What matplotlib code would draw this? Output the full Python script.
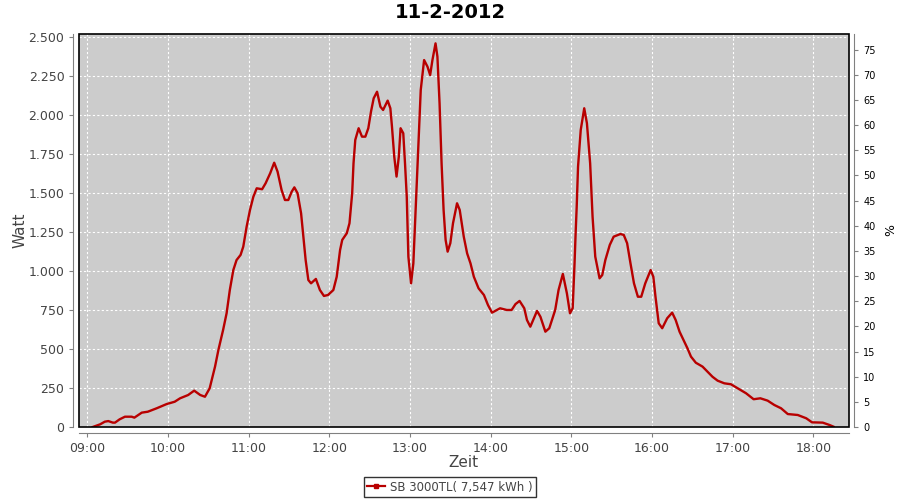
import matplotlib
matplotlib.use('Agg')
import matplotlib.pyplot as plt
from matplotlib.ticker import FuncFormatter, MultipleLocator
from matplotlib.lines import Line2D
from matplotlib.patches import Rectangle

# Minuten nach 09:00 und Leistung in Watt
zeit_min = [4, 9.5, 13, 15.6, 19, 20.6, 24, 28, 33, 35, 40.5, 45, 51.6, 59, 65, 69, 75, 79.5,
            84, 87.5, 91, 95, 97.5, 101, 103.6, 106, 108.6, 111, 114, 116, 118.5, 121, 123.5,
            126, 130, 132.6, 136, 139, 141.5, 144.5, 147, 149.5, 152, 154, 156.4, 159, 160.7,
            162.4, 164.4, 166.4, 170, 173, 176, 179, 183, 185.5, 188, 189.6, 193, 195, 197,
            198, 199.3, 201.8, 204.3, 206.8, 209, 211, 213, 215.5, 218, 220, 223.4, 225.4,
            226.6, 228.3, 230, 231.7, 233, 235, 236.3, 237.6, 238.8, 240.8, 242.5, 244.6,
            246.4, 248, 250.5, 253, 255, 256.7, 259, 260.4, 262, 263.5, 265, 266.5, 268, 270,
            272, 275, 277, 280, 282.5, 285, 287.5, 289, 291, 295, 298, 301, 307, 312, 315.6,
            318.5, 321.5, 325, 327, 329.5, 334.5, 337, 340.7, 343.6, 348, 350.5, 353.7, 356.7,
            359, 361, 362.4, 363.2, 364, 365, 367, 369.6, 371.6, 374, 375.8, 377.8, 381, 383,
            385.3, 388.6, 391.5, 396.5, 399, 401.5, 404, 406.6, 409.5, 412, 415, 419, 421,
            422.6, 425, 427.6, 431.3, 435, 437.6, 440.5, 444, 446.4, 449, 452.6, 457.6, 461.4,
            465, 468.8, 473.8, 478.7, 483.7, 490, 495.6, 500.6, 506, 511, 516, 521, 528.4,
            534.7, 539, 547, 552, 555]
watt = [0, 17, 34, 38, 28, 28, 49, 66, 66, 60, 92, 98, 120, 147, 162, 184, 205, 233,
        205, 194, 248, 387, 494, 622, 729, 878, 1006, 1070, 1103, 1156, 1284, 1391, 1476,
        1530, 1524, 1562, 1626, 1694, 1637, 1519, 1455, 1455, 1508, 1536, 1498, 1370, 1220,
        1070, 942, 921, 949, 878, 840, 846, 878, 963, 1134, 1199, 1242, 1306, 1498,
        1690, 1840, 1915, 1861, 1861, 1915, 2021, 2107, 2149, 2053, 2032, 2092, 2043,
        1925, 1733, 1605, 1733, 1915, 1883, 1690, 1476, 1092, 921, 1049, 1476,
        1840, 2160, 2352, 2310, 2256, 2352, 2459, 2374, 2075, 1690, 1391, 1199, 1124, 1178,
        1306, 1434, 1391, 1220, 1113, 1049, 963, 931, 889, 846, 782, 733, 761, 750, 750,
        788, 808, 761, 686, 643, 744, 707, 611, 633, 750, 878, 981, 857,
        729, 761, 1049, 1242, 1412, 1669, 1904, 2043, 1947, 1690, 1348, 1092, 953, 974,
        1070, 1167, 1220, 1237, 1231, 1178, 1049, 921, 835, 835, 921, 1006, 963,
        835, 665, 633, 697, 733, 686, 611, 547, 504, 451, 412, 387, 354,
        322, 297, 280, 274, 248, 216, 178, 184, 169, 141, 120, 83, 77,
        56, 30, 28, 13, 2]
stunden = ['09:00', '10:00', '11:00', '12:00', '13:00', '14:00', '15:00', '16:00', '17:00', '18:00']
titel = '11-2-2012'
legende = 'SB 3000TL( 7,547 kWh )'

x = [9 + m / 60.0 for m in zeit_min]

fig = plt.figure(figsize=(9, 5), dpi=100)
ax = fig.add_axes([79 / 900, 1 - 427 / 500, (848.5 - 79) / 900, (427 - 34) / 500])
ax.set_facecolor('#cccccc')

ax.plot(x, watt, color='#b80000', lw=1.7, zorder=3)

ax.set_xlim(8.897, 18.436)
ax.set_ylim(0, 2519)
ax.set_xticks(range(9, 19))
ax.set_xticklabels(stunden)
ax.yaxis.set_major_locator(MultipleLocator(250))
ax.yaxis.set_major_formatter(FuncFormatter(lambda v, p: f'{int(v):,}'.replace(',', '.')))
ax.grid(True, color='white', linestyle=(0, (2, 2)), lw=0.8)
ax.set_axisbelow(True)

grau = '#808080'
for s in ['top', 'right']:
    ax.spines[s].set_visible(False)
for s in ['left', 'bottom']:
    ax.spines[s].set_position(('outward', 4))
    ax.spines[s].set_color(grau)
ax.tick_params(colors=grau, labelcolor='#444444', labelsize=9, length=3, width=0.8)

# schwarzer Rahmen um die Plotfläche
ax.add_patch(Rectangle((0, 0), 1, 1, transform=ax.transAxes, fill=False,
                       edgecolor='black', lw=1.2, clip_on=False, zorder=4))

ax.set_xlabel('Zeit', fontsize=11, color='#444444', labelpad=0)
ax.set_ylabel('Watt', fontsize=11, color='#444444', labelpad=1)

ax2 = ax.twinx()
ax2.set_ylim(0, 78.1)
ax2.yaxis.set_major_locator(MultipleLocator(5))
for s in ['top', 'left', 'bottom']:
    ax2.spines[s].set_visible(False)
ax2.spines['right'].set_position(('outward', 4))
ax2.spines['right'].set_color(grau)
ax2.tick_params(colors=grau, labelcolor='black', labelsize=7, length=3, width=0.8)
ax2.set_ylabel('%', fontsize=9, color='black', labelpad=6)

fig.text(0.5, 1 - 12 / 500, titel, ha='center', va='center', fontsize=14, fontweight='bold')

handle = Line2D([], [], color='#b80000', lw=1.6, marker='s', markersize=2.5)
fig.legend([handle], [legende], loc='center', bbox_to_anchor=(450 / 900, 1 - 487 / 500),
           fontsize=8.5, frameon=True, fancybox=False, edgecolor='black', handlelength=1.5,
           handletextpad=0.4, borderpad=0.3, borderaxespad=0)
leg = fig.legends[0]
leg.get_frame().set_linewidth(1)
for t in leg.get_texts():
    t.set_color('#444444')

plt.savefig('out.png', dpi=100)
